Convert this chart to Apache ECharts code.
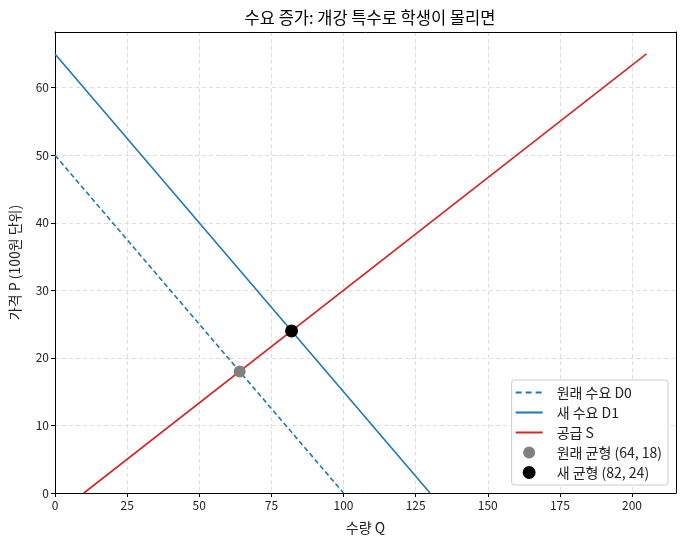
<!DOCTYPE html>
<html><head><meta charset="utf-8">
<script src="https://cdn.jsdelivr.net/npm/echarts@6/dist/echarts.min.js"></script>
<style>html,body{margin:0;padding:0;background:#fff}#c{width:684px;height:544px}</style>
</head><body><div id="c"></div>
<script>
const demandD0 = [[0, 50], [100, 0]];
const demandD1 = [[0, 65], [130, 0]];
const supplyS = [[10, 0], [205, 65]];
const eqOld = [[64, 18]];
const eqNew = [[82, 24]];
const xTicks = [0, 25, 50, 75, 100, 125, 150, 175, 200];
const yTicks = [0, 10, 20, 30, 40, 50, 60];
const names = ['원래 수요 D0', '새 수요 D1', '공급 S', '원래 균형 (64, 18)', '새 균형 (82, 24)'];
const titleText = '수요 증가: 개강 특수로 학생이 몰리면';
const xName = '수량 Q';
const yName = '가격 P (100원 단위)';

const font = "'Noto Sans CJK KR', 'Noto Sans', sans-serif";
const chart = echarts.init(document.getElementById('c'));
const lbl = (vals) => ({ color: '#222', fontSize: 12, fontFamily: font, margin: 6, customValues: vals,
  formatter: (v) => (vals.indexOf(v) >= 0 ? String(v) : '') });
const tick = (vals) => ({ show: true, inside: false, length: 4, customValues: vals, lineStyle: { color: '#000' } });
const splitL = { show: true, lineStyle: { color: '#d4d4d4', type: [4, 3], width: 0.8 } };
const axLine = { show: true, onZero: false, lineStyle: { color: '#000', width: 1 } };
const nameStyle = { color: '#222', fontSize: 14, fontFamily: font };
const corners = ' M0,-6h0.01v0.01h-0.01Z M36,6h0.01v0.01h-0.01Z';
const dashIcon = 'path://M0,-0.9H6V0.9H0Z M10,-0.9H16V0.9H10Z M20,-0.9H26V0.9H20Z' + corners;
const solidIcon = 'path://M0,-0.9H27V0.9H0Z' + corners;
const dotIcon = (r) => 'path://M' + (13.5 - r) + ',0A' + r + ',' + r + ' 0 1,1 ' + (13.5 + r) + ',0A' + r + ',' + r + ' 0 1,1 ' + (13.5 - r) + ',0Z' + corners;
chart.setOption({
  animation: false,
  textStyle: { fontFamily: font },
  title: { text: titleText, left: 365, top: 4, textAlign: 'center',
    textStyle: { fontSize: 16.5, fontWeight: 'normal', color: '#000', fontFamily: font } },
  grid: { left: 55, right: 8, top: 32, bottom: 51 },
  xAxis: [
    { type: 'value', min: 0, max: 215.25, interval: 25, name: xName, nameLocation: 'middle', nameGap: 28,
      axisLine: axLine, axisTick: tick(xTicks), axisLabel: lbl(xTicks), splitLine: splitL, nameTextStyle: nameStyle },
    { type: 'value', position: 'top', min: 0, max: 215.25, interval: 25,
      axisLine: axLine, axisTick: { show: false }, axisLabel: { show: false }, splitLine: { show: false } }
  ],
  yAxis: [
    { type: 'value', min: 0, max: 68.25, interval: 10, name: yName, nameLocation: 'middle', nameGap: 33,
      axisLine: axLine, axisTick: tick(yTicks), axisLabel: lbl(yTicks), splitLine: splitL, nameTextStyle: nameStyle },
    { type: 'value', position: 'right', min: 0, max: 68.25, interval: 10,
      axisLine: axLine, axisTick: { show: false }, axisLabel: { show: false }, splitLine: { show: false } }
  ],
  legend: {
    orient: 'vertical', right: 16, bottom: 59, itemGap: 6, itemWidth: 36, itemHeight: 14,
    backgroundColor: '#fff', borderColor: '#cccccc', borderWidth: 1, borderRadius: 3,
    padding: [5.5, 6, 5.5, 4],
    textStyle: { fontSize: 14, color: '#222', fontFamily: font },
    data: [
      { name: names[0], icon: dashIcon, itemStyle: { color: '#1f77b4' } },
      { name: names[1], icon: solidIcon, itemStyle: { color: '#1f77b4' } },
      { name: names[2], icon: solidIcon, itemStyle: { color: '#d62728' } },
      { name: names[3], icon: dotIcon(6), itemStyle: { color: '#808080' } },
      { name: names[4], icon: dotIcon(6.5), itemStyle: { color: '#000' } }
    ]
  },
  series: [
    { name: names[0], type: 'line', data: demandD0, symbol: 'none', color: '#1f77b4',
      lineStyle: { color: '#1f77b4', width: 1.6, type: [5, 3] } },
    { name: names[1], type: 'line', data: demandD1, symbol: 'none', color: '#1f77b4',
      lineStyle: { color: '#1f77b4', width: 1.6 } },
    { name: names[2], type: 'line', data: supplyS, symbol: 'none', color: '#d62728',
      lineStyle: { color: '#d62728', width: 1.6 } },
    { name: names[3], type: 'scatter', data: eqOld, symbolSize: 12, z: 5,
      itemStyle: { color: '#808080', opacity: 1 } },
    { name: names[4], type: 'scatter', data: eqNew, symbolSize: 13, z: 6,
      itemStyle: { color: '#000', opacity: 1 } }
  ]
});
</script></body></html>
